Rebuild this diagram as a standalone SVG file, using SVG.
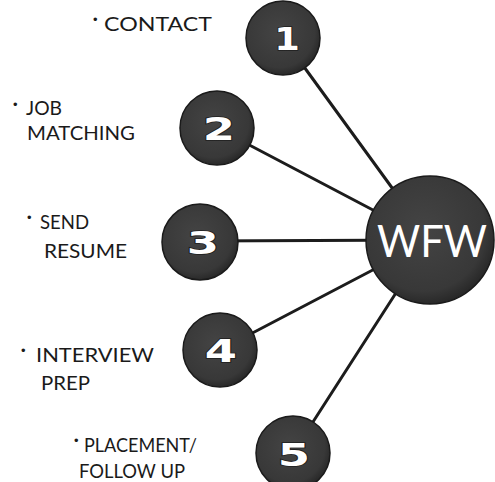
<svg xmlns="http://www.w3.org/2000/svg" width="495" height="482" viewBox="0 0 495 482">
  <style>
    .link { stroke: #1c1c1c; stroke-width: 3; fill: none; stroke-linecap: round; }
    .ball { fill: url(#ballFill); stroke: #1a1a1a; stroke-width: 1.5; }
    .num { font-family: "DejaVu Sans", sans-serif; font-weight: bold; font-size: 32px; fill: #ffffff; stroke: #1e1e1e; stroke-width: 1.6; paint-order: stroke; text-anchor: middle; }
    .hub { font-family: "Lato", "Liberation Sans", sans-serif; font-size: 44px; fill: #ffffff; text-anchor: middle; }
    .label { font-family: "Lato", "Liberation Sans", sans-serif; font-size: 19px; fill: #1a1a1a; }
    .dot { font-family: "Liberation Sans", sans-serif; font-size: 13px; fill: #1a1a1a; }
  </style>
  <defs>
    <radialGradient id="ballFill" cx="0.45" cy="0.42" r="0.6">
      <stop offset="0" stop-color="#444444"/>
      <stop offset="0.8" stop-color="#383838"/>
      <stop offset="1" stop-color="#262626"/>
    </radialGradient>
  </defs>
  <rect width="495" height="482" fill="#ffffff"/>

  <!-- spokes from each step to the hub -->
  <g id="connectors">
    <line class="link" x1="283" y1="38" x2="430" y2="240"/>
    <line class="link" x1="217" y1="128" x2="430" y2="240"/>
    <line class="link" x1="200" y1="241" x2="430" y2="240"/>
    <line class="link" x1="220" y1="350" x2="430" y2="240"/>
    <line class="link" x1="293" y1="453" x2="430" y2="240"/>
  </g>

  <g id="hub">
    <circle class="ball" cx="430" cy="240" r="64"/>
    <text class="hub" x="432" y="257" textLength="110" lengthAdjust="spacingAndGlyphs">WFW</text>
  </g>

  <g id="step1">
    <circle class="ball" cx="283" cy="38" r="37"/>
    <text class="num" transform="translate(287 50) scale(1.15 1)" x="0" y="0">1</text>
    <text class="dot" x="93" y="24">•</text>
    <text class="label" x="104" y="31" textLength="108" lengthAdjust="spacingAndGlyphs">CONTACT</text>
  </g>

  <g id="step2">
    <circle class="ball" cx="217" cy="128" r="37"/>
    <text class="num" transform="translate(219 140) scale(1.45 1)" x="0" y="0">2</text>
    <text class="dot" x="13" y="109">•</text>
    <text class="label" x="26" y="115" textLength="36" lengthAdjust="spacingAndGlyphs">JOB</text>
    <text class="label" x="27" y="140" textLength="108" lengthAdjust="spacingAndGlyphs">MATCHING</text>
  </g>

  <g id="step3">
    <circle class="ball" cx="200" cy="242" r="38"/>
    <text class="num" transform="translate(203 254) scale(1.45 1)" x="0" y="0">3</text>
    <text class="dot" x="27" y="222">•</text>
    <text class="label" x="40" y="229" textLength="49" lengthAdjust="spacingAndGlyphs">SEND</text>
    <text class="label" x="44" y="258" textLength="83" lengthAdjust="spacingAndGlyphs">RESUME</text>
  </g>

  <g id="step4">
    <circle class="ball" cx="220" cy="350" r="37"/>
    <text class="num" transform="translate(221 362) scale(1.45 1)" x="0" y="0">4</text>
    <text class="dot" x="21" y="355">•</text>
    <text class="label" x="36" y="362" textLength="118" lengthAdjust="spacingAndGlyphs">INTERVIEW</text>
    <text class="label" x="41" y="390" textLength="49" lengthAdjust="spacingAndGlyphs">PREP</text>
  </g>

  <g id="step5">
    <circle class="ball" cx="293" cy="453" r="37"/>
    <text class="num" transform="translate(294 466) scale(1.45 1)" x="0" y="0">5</text>
    <text class="dot" x="74" y="445">•</text>
    <text class="label" x="84" y="452" textLength="113" lengthAdjust="spacingAndGlyphs">PLACEMENT/</text>
    <text class="label" x="79" y="478" textLength="106" lengthAdjust="spacingAndGlyphs">FOLLOW UP</text>
  </g>
</svg>
